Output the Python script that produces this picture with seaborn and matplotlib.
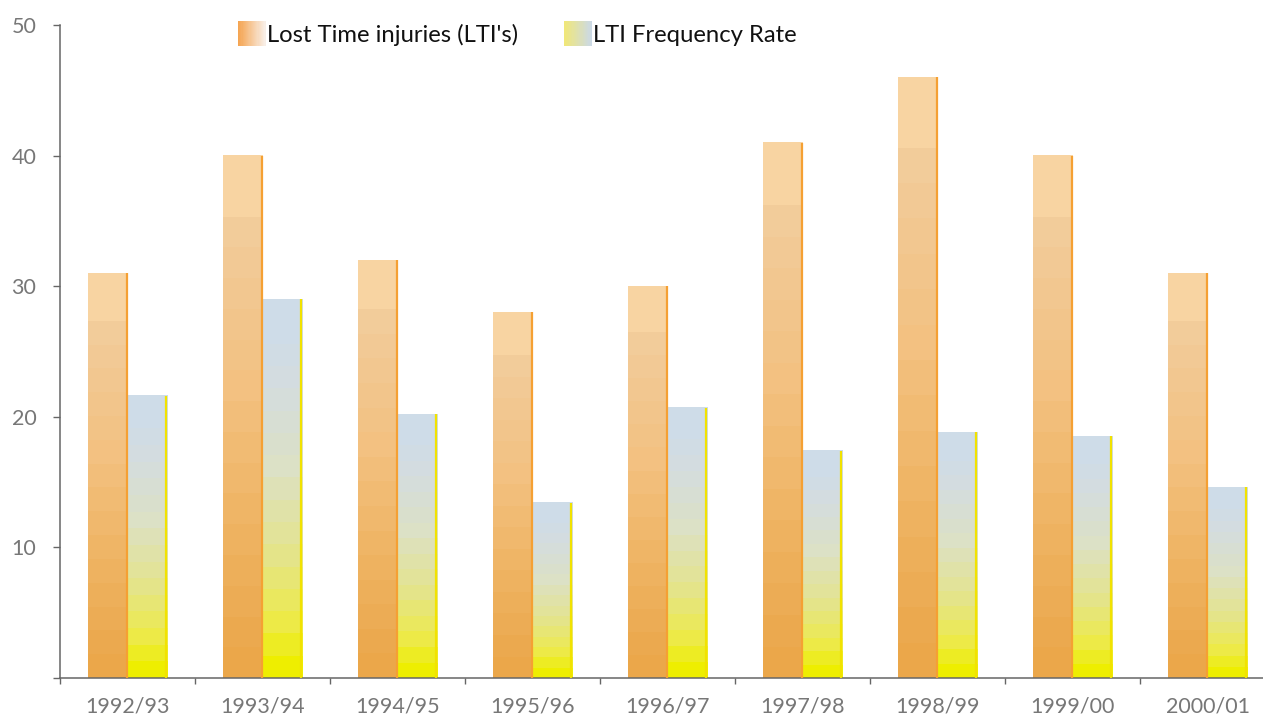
import matplotlib.pyplot as plt
import seaborn as sns
import numpy as np
import pandas as pd
from matplotlib.colors import LinearSegmentedColormap
from matplotlib.legend_handler import HandlerBase
from matplotlib.patches import Patch, Rectangle

# данные
seasons = ['1992/93', '1993/94', '1994/95', '1995/96', '1996/97',
           '1997/98', '1998/99', '1999/00', '2000/01']
lti = [31, 40, 32, 28, 30, 41, 46, 40, 31]
lti_rate = [21.6, 29.0, 20.2, 13.4, 20.7, 17.4, 18.8, 18.5, 14.6]
series_names = ["Lost Time injuries (LTI's)", 'LTI Frequency Rate']
y_ticks = [0, 10, 20, 30, 40, 50]
y_labels = ['', '10', '20', '30', '40', '50']

df = pd.DataFrame({
    'season': seasons * 2,
    'series': [series_names[0]] * len(seasons) + [series_names[1]] * len(seasons),
    'value': lti + lti_rate,
})

# цвета градиентов
cmap_lti = LinearSegmentedColormap.from_list('lti', [
    (0.0, '#EBA74A'), (0.3, '#EFB463'), (0.6, '#F3C181'),
    (0.93, '#F2CC9A'), (1.0, '#F8D4A2')])
cmap_rate = LinearSegmentedColormap.from_list('rate', [
    (0.0, '#EEEE00'), (0.15, '#EDEA50'), (0.35, '#E4E48F'),
    (0.6, '#DCE1C6'), (0.85, '#D4DDE0'), (1.0, '#CEDCE8')])
edge_colors = ['#F5A033', '#F2E200']
leg_lti = LinearSegmentedColormap.from_list('leg1', ['#F5A552', '#F8EEE6'])
leg_rate = LinearSegmentedColormap.from_list('leg2', ['#F0E77A', '#CBD9E6'])

# ступенчатый градиент, верхняя полоса шире
steps = np.r_[np.linspace(0, 1, 16), [1]].reshape(-1, 1)

sns.set_style('white')
plt.rcParams['font.family'] = ['Lato', 'DejaVu Sans']

fig = plt.figure(figsize=(12.63, 7.16), dpi=100)
ax = fig.add_axes([60 / 1263, 1 - 678 / 716, 1 - 60 / 1263, 653 / 716])

sns.barplot(data=df, x='season', y='value', hue='series', order=seasons,
            hue_order=series_names, width=0.58, gap=0, legend=False, ax=ax)

for cont, cmap, edge in zip(ax.containers, [cmap_lti, cmap_rate], edge_colors):
    for bar in cont:
        x0, y0 = bar.get_x(), bar.get_y()
        w, h = bar.get_width(), bar.get_height()
        bar.set_facecolor('none')
        bar.set_edgecolor('none')
        ax.imshow(steps, extent=(x0, x0 + w, y0, y0 + h), origin='lower',
                  aspect='auto', cmap=cmap, vmin=0, vmax=1,
                  interpolation='nearest', zorder=2)
        ax.vlines(x0 + w - 0.006, y0, y0 + h, color=edge, lw=1.6, zorder=3)

ax.set_xlim(-0.5, 8.41)
ax.set_ylim(0, 50)
ax.set_yticks(y_ticks)
ax.set_yticklabels(y_labels)
ax.set_xticks(np.arange(len(seasons)))
ax.set_xticks(np.arange(len(seasons)) - 0.5, minor=True)
ax.set_xlabel('')
ax.set_ylabel('')

sns.despine(ax=ax)
for side in ['left', 'bottom']:
    ax.spines[side].set_color('#666666')
    ax.spines[side].set_linewidth(1.1)
ax.tick_params(axis='x', which='major', length=0, pad=13, labelsize=15.5,
               labelcolor='#777777')
ax.tick_params(axis='x', which='minor', length=4, width=1, color='#666666',
               direction='out', bottom=True)
ax.tick_params(axis='y', length=5, width=1, color='#666666', direction='out',
               left=True, pad=12, labelsize=15.5, labelcolor='#777777')


class GradientHandler(HandlerBase):
    def __init__(self, cmap):
        super().__init__()
        self.cmap = cmap

    def create_artists(self, legend, orig_handle, xdescent, ydescent,
                       width, height, fontsize, trans):
        n = 24
        out = []
        for i in range(n):
            r = Rectangle((-xdescent + i * width / n, -ydescent), width / n + 0.3,
                          height, facecolor=self.cmap(i / (n - 1)),
                          edgecolor='none', transform=trans)
            out.append(r)
        return out


h1, h2 = Patch(), Patch()
fig.legend([h1, h2], series_names, loc='upper left',
           bbox_to_anchor=(238 / 1263, 1 - 21 / 716), ncol=2, frameon=False,
           fontsize=17.2, handlelength=1.15, handleheight=1.25, handletextpad=0.05,
           columnspacing=1.95, borderpad=0, borderaxespad=0, labelcolor='#111111',
           handler_map={h1: GradientHandler(leg_lti), h2: GradientHandler(leg_rate)})

plt.savefig('out.png', dpi=100)
